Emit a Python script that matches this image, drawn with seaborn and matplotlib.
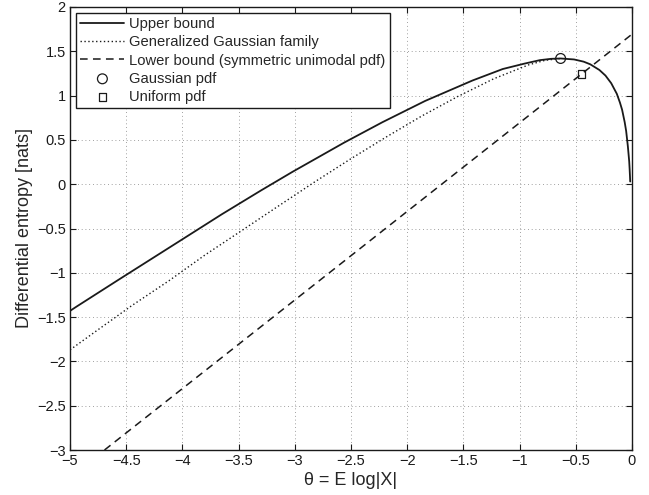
import matplotlib
matplotlib.use("Agg")
import matplotlib.pyplot as plt
import pandas as pd
import seaborn as sns

# upper bound on differential entropy vs theta = E log|X|
upper_theta = [-5.0, -4.94, -4.57, -4.06, -3.65, -3.30, -3.02, -2.56, -2.22,
               -1.84, -1.42, -1.15, -0.96, -0.82, -0.72, -0.635, -0.515,
               -0.43, -0.371, -0.29, -0.236, -0.185, -0.135, -0.107, -0.088,
               -0.065, -0.052, -0.037, -0.025, -0.021, -0.018, -0.016]
upper_h = [-1.43, -1.38, -1.08, -0.67, -0.34, -0.07, 0.14, 0.47, 0.70,
           0.94, 1.17, 1.30, 1.36, 1.40, 1.415, 1.419, 1.408,
           1.383, 1.353, 1.289, 1.226, 1.14, 1.02, 0.92, 0.84,
           0.70, 0.60, 0.43, 0.26, 0.17, 0.09, 0.03]

# generalized Gaussian family (dotted)
gg_theta = [-5.0, -4.77, -4.45, -4.12, -3.80, -3.48, -3.15, -2.83, -2.51,
            -2.19, -1.87, -1.55, -1.23, -0.92, -0.775, -0.635]
gg_h = [-1.87, -1.66, -1.37, -1.09, -0.80, -0.53, -0.25, 0.02, 0.28,
        0.53, 0.77, 0.99, 1.19, 1.347, 1.398, 1.419]

# lower bound for symmetric unimodal pdfs (dashed)
lower_theta = [-4.693, 0.0]
lower_h = [-3.0, 1.693]

gauss_theta = [-0.635]
gauss_h = [1.419]
unif_theta = [-0.451]
unif_h = [1.243]

xticks = [-5, -4.5, -4, -3.5, -3, -2.5, -2, -1.5, -1, -0.5, 0]
yticks = [-3, -2.5, -2, -1.5, -1, -0.5, 0, 0.5, 1, 1.5, 2]


def fmt(v):
    return ("%g" % v).replace("-", "\u2212")


def main():
    sns.set_theme(style="ticks")
    plt.rcParams["font.family"] = ["Liberation Sans", "DejaVu Sans"]
    plt.rcParams["xtick.direction"] = "in"
    plt.rcParams["ytick.direction"] = "in"

    df_up = pd.DataFrame({"theta": upper_theta, "h": upper_h})
    df_gg = pd.DataFrame({"theta": gg_theta, "h": gg_h})
    df_lo = pd.DataFrame({"theta": lower_theta, "h": lower_h})

    fig = plt.figure(figsize=(6.49, 4.95), dpi=100)
    ax = fig.add_axes([70 / 649, 45 / 495, 562 / 649, 443 / 495])

    sns.lineplot(data=df_up, x="theta", y="h", sort=False, estimator=None,
                 color="k", lw=1.3, ax=ax, label="Upper bound")
    sns.lineplot(data=df_gg, x="theta", y="h", sort=False, estimator=None,
                 color="k", lw=1.0, linestyle=(0, (1, 1.8)), ax=ax,
                 label="Generalized Gaussian family")
    sns.lineplot(data=df_lo, x="theta", y="h", sort=False, estimator=None,
                 color="k", lw=1.1, linestyle=(0, (5, 3.5)), ax=ax,
                 label="Lower bound (symmetric unimodal pdf)")
    sns.scatterplot(x=gauss_theta, y=gauss_h, marker="o", s=50, color="k",
                    facecolor="none", edgecolor="k", linewidth=0.9, ax=ax,
                    label="Gaussian pdf", zorder=5)
    sns.scatterplot(x=unif_theta, y=unif_h, marker="s", s=30, color="k",
                    facecolor="none", edgecolor="k", linewidth=0.9, ax=ax,
                    label="Uniform pdf", zorder=5)

    ax.set_xlim(-5, 0)
    ax.set_ylim(-3, 2)
    ax.set_xticks(xticks)
    ax.set_xticklabels([fmt(v) for v in xticks])
    ax.set_yticks(yticks)
    ax.set_yticklabels([fmt(v) for v in yticks])
    ax.tick_params(axis="both", which="both", direction="in", length=4,
                   width=0.8, labelsize=10.5, colors="k", top=True, right=True,
                   pad=3)
    for sp in ax.spines.values():
        sp.set_visible(True)
        sp.set_color("k")
        sp.set_linewidth(1.0)
    ax.grid(True, linestyle=(0, (1, 3.5)), color="0.5", lw=0.6)
    ax.set_axisbelow(True)

    ax.set_xlabel("\u03b8 = E log|X|", fontsize=13, labelpad=3)
    ax.set_ylabel("Differential entropy [nats]", fontsize=13, labelpad=3)

    leg = ax.legend(loc="upper left", fontsize=10.6, frameon=True,
                    fancybox=False, edgecolor="k", framealpha=1,
                    borderaxespad=0.4, borderpad=0.3, labelspacing=0.28,
                    handlelength=3.0, handletextpad=0.3, scatterpoints=1)
    leg.get_frame().set_linewidth(1.0)

    fig.savefig("out.png", dpi=100)
    plt.close(fig)


if __name__ == "__main__":
    main()
